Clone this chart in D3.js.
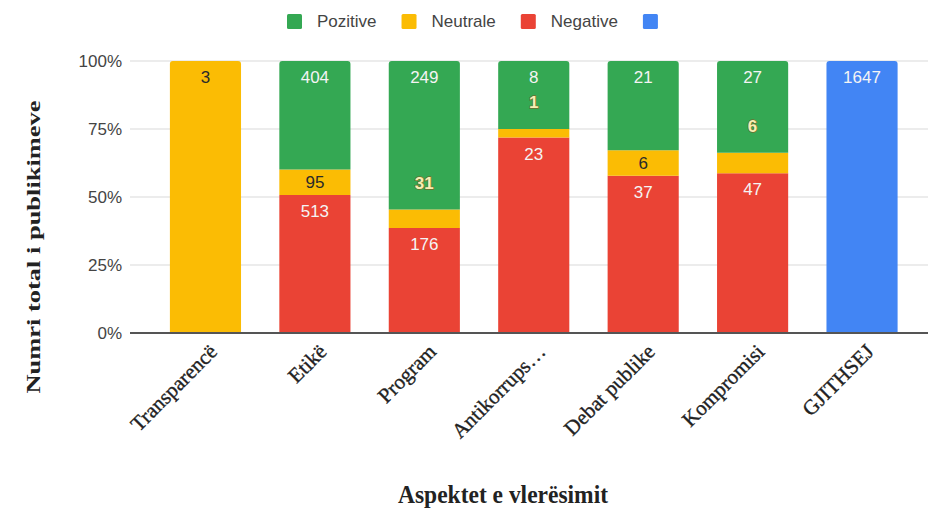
<!DOCTYPE html>
<html>
<head>
<meta charset="utf-8">
<script src="https://cdn.jsdelivr.net/npm/d3@7"></script>
<style>
  body { margin: 0; background: #fff; }
  svg { display: block; }
</style>
</head>
<body>
<div id="chart"></div>
<script>
// data
const categories = ["Transparencë", "Etikë", "Program", "Antikorrups…", "Debat publike", "Kompromisi", "GJITHSEJ"];
const negative = [0, 513, 176, 23, 37, 47, 0];
const neutral  = [3, 95, 31, 1, 6, 6, 0];
const positive = [0, 404, 249, 8, 21, 27, 0];
const total    = [0, 0, 0, 0, 0, 0, 1647];
const legendNames = ["Pozitive", "Neutrale", "Negative", ""];
const yTicks = [0, 0.25, 0.5, 0.75, 1];

const width = 934, height = 512;
const plot = { left: 130, right: 928, top: 61, bottom: 333 };
const keys = ["negative", "neutral", "positive", "total"];
const colors = { positive: "#34a853", neutral: "#fbbc04", negative: "#ea4335", total: "#4285f4" };
const legendKeys = ["positive", "neutral", "negative", "total"];

const rows = categories.map((c, i) => ({
  cat: c, negative: negative[i], neutral: neutral[i], positive: positive[i], total: total[i]
}));

const svg = d3.select("#chart").append("svg")
  .attr("width", width).attr("height", height);

const x = d3.scaleBand()
  .domain(categories)
  .range([150.75, 916.75])
  .paddingInner(0.35)
  .paddingOuter(0.175);

const y = d3.scaleLinear().domain([0, 1]).range([plot.bottom, plot.top]);

// gridlines + tick labels
svg.append("g").selectAll("line").data(yTicks.filter(d => d > 0)).join("line")
  .attr("x1", plot.left).attr("x2", plot.right)
  .attr("y1", d => y(d)).attr("y2", d => y(d))
  .attr("stroke", "#d9d9d9").attr("stroke-width", 1);

svg.append("g").selectAll("text").data(yTicks).join("text")
  .attr("x", 122).attr("y", d => y(d) + 6)
  .attr("text-anchor", "end")
  .attr("font-family", "'Liberation Sans', Arial, sans-serif")
  .attr("font-size", 17).attr("fill", "#444")
  .text(d => d3.format(".0%")(d));

// stacked (100%) bars
const series = d3.stack().keys(keys).offset(d3.stackOffsetExpand)(rows);

function topIndex(row) {
  let t = -1;
  keys.forEach((k, i) => { if (row[k] > 0) t = i; });
  return t;
}

function roundedTop(x0, y0, w, h, r) {
  r = Math.min(r, h);
  return `M${x0},${y0 + h}V${y0 + r}Q${x0},${y0} ${x0 + r},${y0}H${x0 + w - r}Q${x0 + w},${y0} ${x0 + w},${y0 + r}V${y0 + h}Z`;
}

const bars = svg.append("g");
series.forEach((s, si) => {
  bars.selectAll(null).data(s.filter(d => d.data[s.key] > 0)).join("path")
    .attr("fill", colors[s.key])
    .attr("d", d => {
      const x0 = x(d.data.cat), w = x.bandwidth();
      const y0 = y(d[1]), h = y(d[0]) - y(d[1]);
      const r = topIndex(d.data) === si ? 3 : 0;
      return roundedTop(x0, y0, w, h, r);
    });
});

// baseline
svg.append("line")
  .attr("x1", plot.left).attr("x2", plot.right)
  .attr("y1", plot.bottom).attr("y2", plot.bottom)
  .attr("stroke", "#555").attr("stroke-width", 2);

// value labels
const labels = svg.append("g")
  .attr("font-family", "'Liberation Sans', Arial, sans-serif")
  .attr("font-size", 17).attr("text-anchor", "middle");
series.forEach(s => {
  s.filter(d => d.data[s.key] > 0).forEach(d => {
    const top = y(d[1]), h = y(d[0]) - y(d[1]);
    const small = h < 22;
    const cy = small ? top - 27 : top + Math.min(16, h / 2);
    const t = labels.append("text")
      .attr("x", x(d.data.cat) + x.bandwidth() / 2)
      .attr("y", cy + 6)
      .text(d.data[s.key]);
    if (small) {
      t.attr("fill", "#f6efb4").attr("stroke", "#6f6d2e").attr("stroke-width", 1.3)
        .attr("paint-order", "stroke").attr("font-weight", "bold");
    } else {
      t.attr("fill", s.key === "neutral" ? "#2a2a2a" : "#f4f4f4");
    }
  });
});

// category labels
svg.append("g").selectAll("text").data(categories).join("text")
  .attr("transform", d => `translate(${x(d) + x.bandwidth() / 2 + 13},${plot.bottom + 20}) rotate(-45)`)
  .attr("text-anchor", "end")
  .attr("font-family", "'Liberation Serif', 'Times New Roman', serif")
  .attr("font-size", 21).attr("fill", "#222")
  .attr("stroke", "#222").attr("stroke-width", 0.35)
  .text(d => d);

// legend
const legend = svg.append("g")
  .attr("font-family", "'Liberation Sans', Arial, sans-serif")
  .attr("font-size", 17).attr("fill", "#444");
let lx = 287;
legendKeys.forEach((k, i) => {
  legend.append("rect")
    .attr("x", lx).attr("y", 14).attr("width", 15).attr("height", 15)
    .attr("rx", 1.5).attr("fill", colors[k]);
  const t = legend.append("text").attr("x", lx + 30).attr("y", 27).text(legendNames[i]);
  lx += 30 + t.node().getComputedTextLength() + 25;
});

// axis titles
svg.append("text")
  .attr("transform", "translate(40,247) rotate(-90)")
  .attr("text-anchor", "middle")
  .attr("font-family", "'Liberation Serif', 'Times New Roman', serif")
  .attr("font-weight", "bold").attr("font-size", 18).attr("fill", "#222")
  .attr("textLength", 293).attr("lengthAdjust", "spacingAndGlyphs")
  .text("Numri total i publikimeve");

svg.append("text")
  .attr("x", 503).attr("y", 503)
  .attr("text-anchor", "middle")
  .attr("font-family", "'Liberation Serif', 'Times New Roman', serif")
  .attr("font-weight", "bold").attr("font-size", 25).attr("fill", "#222")
  .attr("textLength", 210).attr("lengthAdjust", "spacingAndGlyphs")
  .text("Aspektet e vlerësimit");
</script>
</body>
</html>
